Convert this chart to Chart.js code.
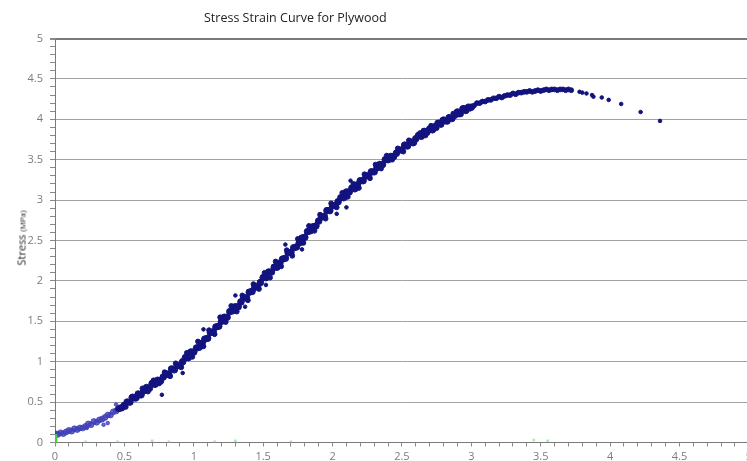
<!DOCTYPE html>
<html>
<head>
<meta charset="utf-8">
<script src="https://cdn.jsdelivr.net/npm/chart.js@4.4.1/dist/chart.umd.min.js"></script>
<style>
  html, body { margin: 0; padding: 0; background: #fff; overflow: hidden; width: 747px; height: 461px; }
  #wrap { position: absolute; left: 0; top: 0; width: 756px; height: 461px; }
  #title { position: absolute; left: 204px; top: 9px; font: 12.5px "Open Sans", sans-serif; color: #222; white-space: nowrap; }
  #ytitle { position: absolute; left: 21px; top: 238px; transform: translate(-50%, -50%) rotate(-90deg);
            font: 11px "Open Sans", sans-serif; color: #222; white-space: nowrap; }
  #ytitle small { font-size: 8px; }
</style>
</head>
<body>
<div id="wrap"><canvas id="c" width="756" height="461"></canvas></div>
<div id="title">Stress Strain Curve for Plywood</div>
<div id="ytitle">Stress <small>(MPa)</small></div>
<script>
// Measured strain / stress readings (strain in %, stress in MPa)
const strainMain = [
  0.00,0.02,0.04,0.06,0.08,0.10,0.12,0.14,0.16,0.18,0.20,0.22,0.24,0.26,0.28,0.30,0.32,0.34,0.36,0.38,
  0.40,0.42,0.44,0.46,0.48,0.50,0.52,0.54,0.56,0.58,0.60,0.62,0.64,0.66,0.68,0.70,0.72,0.74,0.76,0.78,
  0.80,0.82,0.84,0.86,0.88,0.90,0.92,0.94,0.96,0.98,1.00,1.02,1.04,1.06,1.08,1.10,1.12,1.14,1.16,1.18,
  1.20,1.22,1.24,1.26,1.28,1.30,1.32,1.34,1.36,1.38,1.40,1.42,1.44,1.46,1.48,1.50,1.52,1.54,1.56,1.58,
  1.60,1.62,1.64,1.66,1.68,1.70,1.72,1.74,1.76,1.78,1.80,1.82,1.84,1.86,1.88,1.90,1.92,1.94,1.96,1.98,
  2.00,2.02,2.04,2.06,2.08,2.10,2.12,2.14,2.16,2.18,2.20,2.22,2.24,2.26,2.28,2.30,2.32,2.34,2.36,2.38,
  2.40,2.42,2.44,2.46,2.48,2.50,2.52,2.54,2.56,2.58,2.60,2.62,2.64,2.66,2.68,2.70,2.72,2.74,2.76,2.78,
  2.80,2.82,2.84,2.86,2.88,2.90,2.92,2.94,2.96,2.98,3.00,3.02,3.04,3.06,3.08,3.10,3.12,3.14,3.16,3.18,
  3.20,3.22,3.24,3.26,3.28,3.30,3.32,3.34,3.36,3.38,3.40,3.42,3.44,3.46,3.48,3.50,3.52,3.54,3.56,3.58,
  3.60,3.62,3.64,3.66,3.68,3.70,3.72
];
const stressMain = [
  0.11,0.10,0.12,0.11,0.13,0.15,0.14,0.17,0.16,0.18,0.18,0.20,0.23,0.22,0.26,0.25,0.28,0.29,0.31,0.34,
  0.34,0.38,0.39,0.42,0.43,0.46,0.50,0.50,0.56,0.55,0.60,0.59,0.64,0.68,0.67,0.73,0.72,0.77,0.76,0.81,
  0.85,0.84,0.91,0.90,0.95,0.95,1.00,1.05,1.05,1.12,1.12,1.17,1.18,1.23,1.28,1.29,1.36,1.37,1.43,1.44,
  1.50,1.55,1.55,1.62,1.63,1.68,1.68,1.74,1.79,1.79,1.86,1.87,1.92,1.93,1.98,2.04,2.04,2.11,2.11,2.17,
  2.17,2.22,2.27,2.28,2.35,2.35,2.41,2.42,2.47,2.53,2.54,2.61,2.62,2.67,2.68,2.74,2.79,2.80,2.87,2.87,
  2.93,2.93,2.98,3.03,3.03,3.10,3.10,3.15,3.14,3.19,3.24,3.24,3.30,3.30,3.35,3.35,3.40,3.44,3.44,3.50,
  3.50,3.54,3.54,3.58,3.62,3.62,3.68,3.67,3.72,3.71,3.76,3.80,3.79,3.85,3.84,3.88,3.87,3.91,3.95,3.94,
  3.99,3.98,4.02,4.01,4.05,4.09,4.07,4.13,4.11,4.15,4.15,4.17,4.20,4.20,4.22,4.22,4.24,4.24,4.26,4.26,
  4.28,4.27,4.29,4.30,4.30,4.32,4.31,4.33,4.33,4.34,4.34,4.35,4.34,4.35,4.36,4.35,4.36,4.37,4.36,4.37,
  4.37,4.36,4.37,4.37,4.36,4.37,4.36
];
// Interleaved readings that widen the band through the loading stage
const strainMid = [
  0.51,0.55,0.59,0.63,0.67,0.71,0.75,0.79,0.83,0.87,0.91,0.95,0.99,1.03,1.07,1.11,1.15,1.19,1.23,1.27,
  1.31,1.35,1.39,1.43,1.47,1.51,1.55,1.59,1.63,1.67,1.71,1.75,1.79,1.83,1.87,1.91,1.95,1.99,2.03,2.07,
  2.11,2.15,2.19,2.23,2.27,2.31,2.35,2.39,2.43,2.47,2.51,2.55,2.59,2.63,2.67,2.71,2.75,2.79,2.83,2.87,
  2.91,2.95,2.99
];
const stressMid = [
  0.44,0.56,0.55,0.67,0.63,0.77,0.73,0.87,0.82,0.98,0.93,1.11,1.06,1.25,1.19,1.39,1.34,1.55,1.49,1.69,
  1.62,1.82,1.76,1.96,1.90,2.10,2.04,2.24,2.18,2.38,2.31,2.52,2.47,2.68,2.62,2.82,2.77,2.96,2.91,3.09,
  3.04,3.20,3.15,3.32,3.27,3.44,3.39,3.55,3.50,3.64,3.60,3.74,3.71,3.83,3.80,3.92,3.89,3.99,3.97,4.07,
  4.06,4.14,4.13
];
// Readings lying off the main band
const strainStray = [0.23,0.35,0.38,0.44,0.77,0.92,1.07,1.30,1.37,1.52,1.66,1.78,2.03,2.10,2.13,2.89];
const stressStray = [0.18,0.22,0.24,0.47,0.59,0.86,1.40,1.82,1.68,1.95,2.45,2.39,2.83,2.91,3.24,4.09];
// Post-peak softening readings
const strainTail = [3.78,3.80,3.83,3.87,3.88,3.94,3.99,4.08,4.22,4.36];
const stressTail = [4.34,4.33,4.32,4.30,4.28,4.27,4.24,4.19,4.09,3.98];
// Second channel, near zero
const strainZero = [0,0,0,0,0,0.22,0.45,0.70,0.82,1.15,1.30,1.70,3.45,3.55];
const stressZero = [0.00,0.02,0.04,0.06,0.08,0.01,0.01,0.02,0.01,0.01,0.02,0.01,0.03,0.02];

const pts = (xs, ys) => xs.map((x, i) => ({ x, y: ys[i] }));
const isMajor = v => Math.abs(v * 2 - Math.round(v * 2)) < 1e-6;
const tickLabel = v => isMajor(v) ? String(Math.round(v * 10) / 10) : '';

const NAVY = '#13137f';
const EARLY = 'rgba(62,62,182,0.8)';
const bandColor = ctx => (ctx.raw && ctx.raw.x < 0.46) ? EARLY : NAVY;
const bandRadius = ctx => {
  const x = ctx.raw ? ctx.raw.x : 1;
  if (x < 0.46) return 2.9;
  if (x > 3.0) return 2.4;
  return 3.3;
};

const dot = (data, radius, color) => ({
  data,
  pointStyle: 'circle',
  pointRadius: radius,
  backgroundColor: color,
  borderColor: color,
  borderWidth: 1
});

new Chart(document.getElementById('c'), {
  type: 'scatter',
  data: {
    datasets: [
      {
        data: pts(strainZero, stressZero),
        pointStyle: 'rect',
        pointRadius: ctx => (ctx.raw && ctx.raw.x === 0) ? 3 : 1.8,
        backgroundColor: ctx => (ctx.raw && ctx.raw.x === 0) ? '#3fd03f' : 'rgba(120,215,120,0.6)',
        borderWidth: 0
      },
      dot(pts(strainStray, stressStray), 1.8, bandColor),
      dot(pts(strainMid, stressMid), 2.4, NAVY),
      dot(pts(strainMain, stressMain), bandRadius, bandColor),
      dot(pts(strainTail, stressTail), 1.8, NAVY)
    ]
  },
  options: {
    responsive: false,
    animation: false,
    layout: { padding: { top: 38.5, left: 0, right: 0, bottom: 0 } },
    plugins: { legend: { display: false }, tooltip: { enabled: false }, title: { display: false } },
    scales: {
      x: {
        type: 'linear',
        min: 0, max: 5,
        afterFit: s => { s.height = 18.5; },
        border: { color: '#7a7a7a', width: 1 },
        grid: { drawOnChartArea: false, tickLength: 4, tickColor: '#8a8a8a' },
        ticks: {
          stepSize: 0.1, autoSkip: false, maxRotation: 0, padding: 4,
          color: '#7c7c7c', font: { family: 'Open Sans', size: 11 },
          callback: tickLabel
        }
      },
      y: {
        type: 'linear',
        min: 0, max: 5,
        afterFit: s => { s.width = 55; },
        border: { color: '#7a7a7a', width: 1 },
        grid: {
          color: ctx => (ctx.tick && isMajor(ctx.tick.value) && ctx.tick.value > 0) ? (ctx.tick.value === 5 ? '#7a7a7a' : '#a2a2a2') : 'rgba(0,0,0,0)',
          lineWidth: ctx => (ctx.tick && ctx.tick.value === 5) ? 2 : 1,
          tickLength: 5,
          tickColor: '#8a8a8a'
        },
        ticks: {
          stepSize: 0.1, autoSkip: false, padding: 7,
          color: '#7c7c7c', font: { family: 'Open Sans', size: 11 },
          callback: tickLabel
        }
      }
    }
  }
});
</script>
</body>
</html>
